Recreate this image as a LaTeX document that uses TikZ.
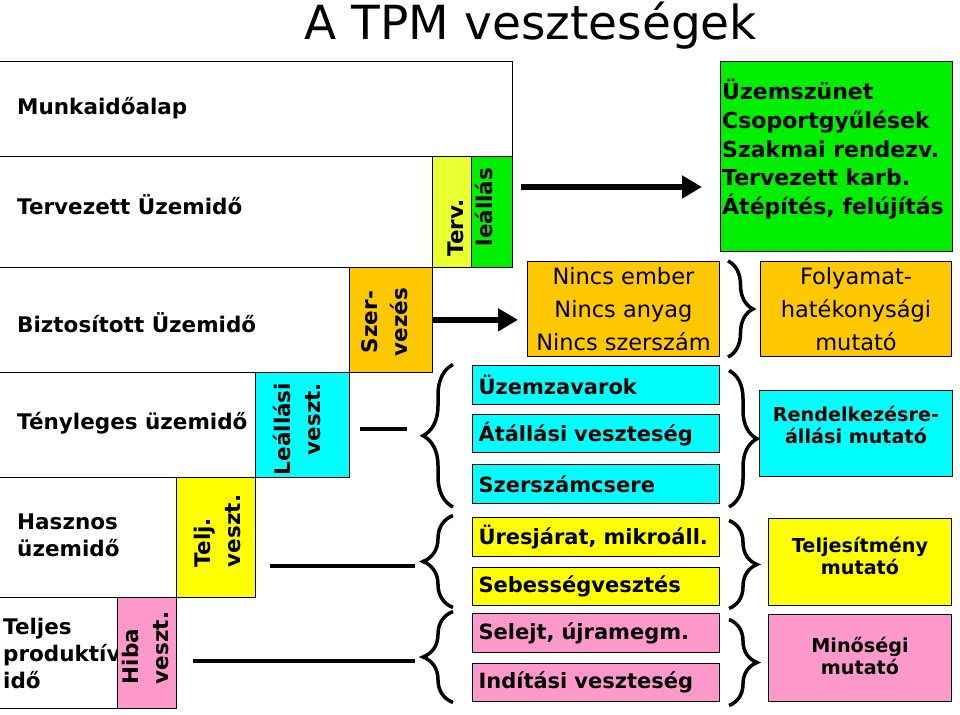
\documentclass[tikz,border=0pt]{standalone}
\usepackage{fontspec}
\setmainfont{DejaVu Sans}
\usetikzlibrary{arrows.meta,positioning,calc,decorations.pathreplacing}
\definecolor{TpmGreen}{HTML}{00EE00}
\definecolor{TpmLime}{HTML}{EAFF2E}
\definecolor{TpmOrange}{HTML}{FFC800}
\definecolor{TpmCyan}{HTML}{00FFFF}
\definecolor{TpmYellow}{HTML}{FFFF00}
\definecolor{TpmPink}{HTML}{FF99CC}
\newcommand{\fsz}[2]{\fontsize{#1}{#2}\selectfont}

\begin{document}
\begin{tikzpicture}[
  x=1pt, y=1pt,
  node distance=10pt and 40pt,
  row/.style={draw, line width=1.3pt, anchor=south west, inner sep=0pt},
  lossbox/.style={draw, line width=1.3pt, anchor=south west, inner sep=0pt},
  lab/.style={anchor=west, align=left, inner sep=0pt, font=\fsz{21.5}{27}\bfseries},
  vlab/.style={rotate=90, inner sep=0pt, font=\fsz{21.5}{30}\bfseries},
  lossitem/.style={draw, line width=1pt, minimum height=38.5pt, inner xsep=6pt,
                   text width=235pt, align=left, font=\fsz{21}{25}\bfseries},
  kpi/.style={draw, line width=1pt, anchor=south west, inner sep=0pt},
  kpitxt/.style={align=center, inner sep=0pt, font=\fsz{19.2}{22}\bfseries},
  plainbox/.style={draw, line width=1pt, align=center, font=\fsz{22.5}{33}},
  bigarrow/.style={-{Triangle[length=20pt,width=22pt]}, line width=5.5pt},
  link/.style={line width=4.5pt},
  curly/.style={decorate, decoration={brace, amplitude=#1}, line width=3.5pt}
]
\useasboundingbox (0,0) rectangle (960,714);
\clip (0,0) rectangle (960,714);

\node[font=\fsz{47}{56}, anchor=base] (title) at (531,674) {A TPM veszteségek};

% staircase of time categories
\node[row, minimum width=517pt, minimum height=95pt] (r1) at (-5,557) {};
\node[row, minimum width=437pt, minimum height=111pt] (r2) at (-5,446) {};
\node[row, minimum width=354pt, minimum height=105pt] (r3) at (-5,341) {};
\node[row, minimum width=260pt, minimum height=105pt] (r4) at (-5,236) {};
\node[row, minimum width=181pt, minimum height=120pt] (r5) at (-5,116) {};
\node[row, minimum width=122pt, minimum height=111pt] (r6) at (-5,5) {};

\node[lab] (munka) at (17,606) {Munkaidőalap};
\node[lab] (tervuz) at (17,509) {Tervezett Üzemidő};
\node[lab] (bizt) at (17,391) {Biztosított Üzemidő};
\node[lab] (teny) at (17,291) {Tényleges üzemidő};
\node[lab] (haszn) at (17,179) {Hasznos\\üzemidő};
\node[lab] (teljes) at (3,61) {Teljes\\produktív\\idő};

% losses
\node[lossbox, fill=TpmLime, minimum width=39pt, minimum height=111pt] (tervbox) at (432,446) {};
\node[lossbox, fill=TpmGreen, minimum width=41pt, minimum height=111pt] (leallas) at (471,446) {};
\node[lossbox, fill=TpmOrange, minimum width=83pt, minimum height=105pt] (szerbox) at (349,341) {};
\node[lossbox, fill=TpmCyan, minimum width=94pt, minimum height=105pt] (leallbox) at (255,236) {};
\node[lossbox, fill=TpmYellow, minimum width=79pt, minimum height=120pt] (teljbox) at (176,116) {};
\node[lossbox, fill=TpmPink, minimum width=59pt, minimum height=111pt] (hibabox) at (117,5) {};

\node[vlab] (tervtxt) at (456,486) {Terv.};
\node[vlab] (leallastxt) at (484,507) {leállás};
\node[vlab, align=center] (szertxt) at (385,392) {Szer-\\vezés};
\node[vlab, align=right] (lealltxt) at (297,285) {Leállási\\veszt.};
\node[vlab, align=left] (teljtxt) at (217,183) {Telj.\\veszt.};
\node[vlab, align=left] (hibatxt) at (145,66) {Hiba\\veszt.};

% right hand side
\node[draw, line width=1pt, fill=TpmGreen, minimum width=232pt, minimum height=190pt,
      anchor=south west, inner sep=0pt] (green) at (720,462) {};
\node[anchor=north west, align=left, inner sep=0pt, font=\fsz{22}{28.75}\bfseries] (greentxt)
  at (722,635) {Üzemszünet\\Csoportgyűlések\\Szakmai rendezv.\\Tervezett karb.\\Átépítés, felújítás};

\node[plainbox, fill=TpmOrange, minimum width=192pt, minimum height=95pt, anchor=south west] (nincs)
  at (527,357) {Nincs ember\\Nincs anyag\\Nincs szerszám};
\node[plainbox, fill=TpmOrange, minimum width=191pt, minimum height=95pt, right=40pt of nincs] (folyam)
  {Folyamat-\\hatékonysági\\mutató};

\node[lossitem, fill=TpmCyan, anchor=south west] (uzem) at (472,309) {Üzemzavarok};
\node[lossitem, fill=TpmCyan, below=9pt of uzem] (atall) {Átállási~veszteség};
\node[lossitem, fill=TpmCyan, below=11pt of atall] (szersz) {Szerszámcsere};
\node[lossitem, fill=TpmYellow, anchor=south west] (ures) at (472,157) {Üresjárat,~mikroáll.};
\node[lossitem, fill=TpmYellow, below=10pt of ures] (sebes) {Sebességvesztés};
\node[lossitem, fill=TpmPink, anchor=south west] (selejt) at (472,61) {Selejt,~újramegm.};
\node[lossitem, fill=TpmPink, below=10pt of selejt] (indit) {Indítási~veszteség};

\node[kpi, fill=TpmCyan, minimum width=193pt, minimum height=86pt] (rendel) at (759,237) {};
\node[kpitxt] (rendeltxt) at ([yshift=9pt]rendel.center) {Rendelkezésre-\\állási mutató};
\node[kpi, fill=TpmYellow, minimum width=183pt, minimum height=87pt] (teljm) at (768,108) {};
\node[kpitxt] (teljmtxt) at ([yshift=6pt]teljm.center) {Teljesítmény\\mutató};
\node[kpi, fill=TpmPink, minimum width=183pt, minimum height=87pt] (minos) at (768,12) {};
\node[kpitxt] (minostxt) at ([yshift=2pt]minos.center) {Minőségi\\mutató};

% arrows, lines and braces
\coordinate (arrowA) at (0,527);
\draw[bigarrow] ($(leallas.east |- arrowA)+(8,0)$) -- ($(green.west |- arrowA)+(-18,0)$);
\draw[bigarrow] (szerbox.east) -- ($(nincs.west |- szerbox.east)+(-9,0)$);

\coordinate (cyantip) at (422,285);
\coordinate (yeltip) at (422,148);
\coordinate (pinktip) at (422,53);
\draw[link] ($(leallbox.east |- cyantip)+(10,0)$) -- ($(cyantip)+(-15,0)$);
\draw[link] ($(teljbox.east |- yeltip)+(14,0)$) -- ($(yeltip)+(-7,0)$);
\draw[link] ($(hibabox.east |- pinktip)+(16,0)$) -- ($(pinktip)+(-7,0)$);

\draw[curly=30pt] ($(szersz.south west)+(-19,-3)$) -- ($(uzem.north west)+(-19,1)$);
\draw[curly=30pt] ($(sebes.south west)+(-19,-1)$) -- ($(ures.north west)+(-19,2)$);
\draw[curly=30pt] ($(indit.south west)+(-19,0)$) -- ($(selejt.north west)+(-19,2)$);

\draw[curly=25pt] ($(nincs.north east)+(8,0)$) -- ($(nincs.south east)+(8,0)$);
\draw[curly=28pt] ($(uzem.north east)+(9,-5)$) -- ($(szersz.south east)+(9,-3)$);
\draw[curly=28pt] ($(ures.north east)+(9,-3)$) -- ($(sebes.south east)+(9,-2)$);
\draw[curly=28pt] ($(selejt.north east)+(9,-6)$) -- ($(indit.south east)+(9,-3)$);
\end{tikzpicture}
\end{document}
